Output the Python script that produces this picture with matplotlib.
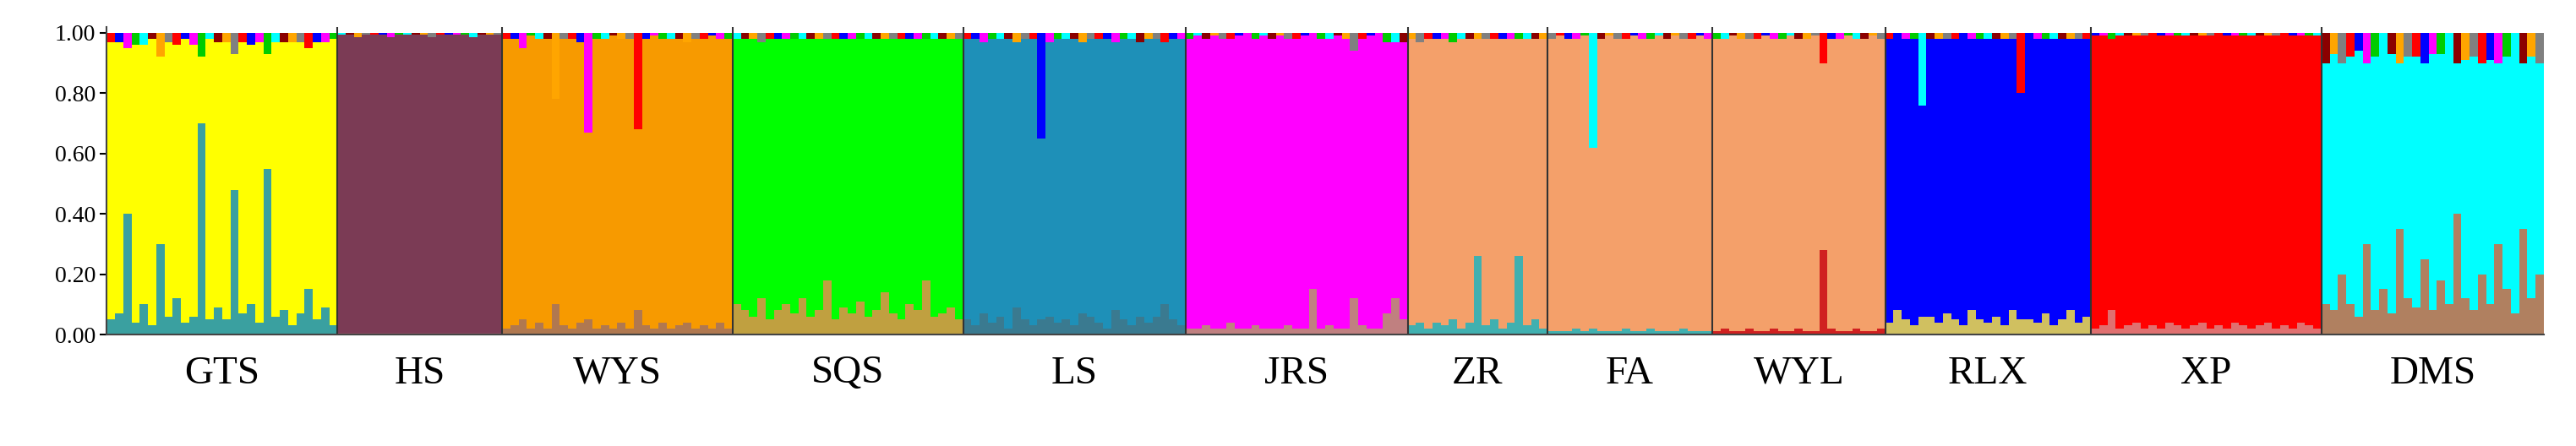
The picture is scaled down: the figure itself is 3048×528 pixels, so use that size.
import numpy as np
import matplotlib.pyplot as plt

plt.rcParams['font.family'] = ['Liberation Serif', 'DejaVu Serif']

pops = ["GTS", "HS", "WYS", "SQS", "LS", "JRS", "ZR", "FA", "WYL", "RLX", "XP", "DMS"]
main_colors = ["#FFFF00", "#7B3B55", "#F79A00", "#00FF00", "#1E90B8", "#FF00FF",
               "#F4A06A", "#F4A06A", "#F4A06A", "#0000FF", "#FF0000", "#00FFFF"]
sec_colors = ["#3AA0A0", "#8B4A60", "#B07850", "#C0A040", "#3A7A90", "#C08080",
              "#40B0B0", "#40B0B0", "#D02020", "#D0C060", "#E07070", "#B08060"]

# main-cluster share per individual
main = {
    "GTS": [0.92,0.90,0.55,0.92,0.86,0.95,0.62,0.91,0.84,0.94,0.90,0.22,0.93,0.88,0.92,0.45,0.90,0.86,0.93,0.38,0.91,0.89,0.94,0.90,0.80,0.92,0.88,0.95],
    "HS": [0.99,0.99,0.98,0.99,0.99,0.99,0.98,0.99,0.99,0.99,0.99,0.98,0.99,0.99,0.99,0.99,0.98,0.99,0.99,0.99],
    "WYS": [0.96,0.95,0.90,0.97,0.94,0.96,0.68,0.95,0.96,0.93,0.62,0.96,0.95,0.97,0.94,0.96,0.60,0.95,0.97,0.94,0.96,0.95,0.93,0.96,0.95,0.97,0.94,0.96],
    "SQS": [0.88,0.90,0.92,0.85,0.93,0.90,0.88,0.91,0.86,0.92,0.90,0.80,0.93,0.89,0.91,0.87,0.92,0.90,0.84,0.91,0.93,0.88,0.90,0.80,0.92,0.91,0.89,0.93],
    "LS": [0.93,0.95,0.90,0.94,0.92,0.96,0.88,0.93,0.95,0.60,0.91,0.94,0.93,0.95,0.90,0.92,0.94,0.96,0.89,0.93,0.95,0.91,0.94,0.92,0.87,0.93,0.95],
    "JRS": [0.96,0.97,0.95,0.97,0.96,0.94,0.97,0.96,0.95,0.97,0.96,0.97,0.95,0.96,0.97,0.80,0.96,0.95,0.97,0.96,0.82,0.95,0.97,0.96,0.90,0.85,0.92],
    "ZR": [0.95,0.93,0.96,0.94,0.95,0.92,0.96,0.94,0.72,0.95,0.93,0.96,0.94,0.72,0.95,0.93,0.96],
    "FA": [0.97,0.98,0.97,0.96,0.98,0.60,0.97,0.98,0.97,0.96,0.98,0.97,0.96,0.98,0.97,0.98,0.96,0.97,0.98,0.97],
    "WYL": [0.97,0.96,0.98,0.97,0.96,0.97,0.98,0.96,0.97,0.98,0.96,0.97,0.98,0.62,0.96,0.97,0.98,0.96,0.97,0.98,0.96],
    "RLX": [0.94,0.90,0.93,0.95,0.70,0.92,0.94,0.91,0.93,0.95,0.90,0.93,0.94,0.92,0.95,0.90,0.75,0.93,0.94,0.91,0.95,0.93,0.90,0.94,0.92],
    "XP": [0.97,0.96,0.90,0.97,0.96,0.95,0.97,0.96,0.97,0.95,0.96,0.97,0.96,0.95,0.97,0.96,0.97,0.95,0.96,0.97,0.96,0.95,0.97,0.96,0.97,0.95,0.96,0.97],
    "DMS": [0.80,0.85,0.70,0.82,0.88,0.60,0.84,0.78,0.86,0.55,0.80,0.83,0.65,0.85,0.75,0.82,0.50,0.79,0.84,0.70,0.81,0.60,0.77,0.85,0.55,0.80,0.70],
}
# second-cluster share at the bottom of each bar
sec = {
    "GTS": [0.05,0.07,0.40,0.04,0.10,0.03,0.30,0.06,0.12,0.04,0.06,0.70,0.05,0.09,0.05,0.48,0.07,0.10,0.04,0.55,0.06,0.08,0.03,0.07,0.15,0.05,0.09,0.03],
    "HS": [0.005]*20,
    "WYS": [0.02,0.03,0.05,0.02,0.04,0.02,0.10,0.03,0.02,0.04,0.05,0.02,0.03,0.02,0.04,0.02,0.08,0.03,0.02,0.04,0.02,0.03,0.04,0.02,0.03,0.02,0.04,0.02],
    "SQS": [0.10,0.08,0.06,0.12,0.05,0.08,0.10,0.07,0.12,0.06,0.08,0.18,0.05,0.09,0.07,0.11,0.06,0.08,0.14,0.07,0.05,0.10,0.08,0.18,0.06,0.07,0.09,0.05],
    "LS": [0.05,0.03,0.07,0.04,0.06,0.02,0.09,0.05,0.03,0.05,0.06,0.04,0.05,0.03,0.07,0.06,0.04,0.02,0.08,0.05,0.03,0.06,0.04,0.06,0.10,0.05,0.03],
    "JRS": [0.02,0.02,0.03,0.02,0.02,0.04,0.02,0.02,0.03,0.02,0.02,0.02,0.03,0.02,0.02,0.15,0.02,0.03,0.02,0.02,0.12,0.03,0.02,0.02,0.07,0.12,0.05],
    "ZR": [0.03,0.04,0.02,0.04,0.03,0.05,0.02,0.04,0.26,0.03,0.05,0.02,0.04,0.26,0.03,0.05,0.02],
    "FA": [0.01,0.01,0.01,0.02,0.01,0.02,0.01,0.01,0.01,0.02,0.01,0.01,0.02,0.01,0.01,0.01,0.02,0.01,0.01,0.01],
    "WYL": [0.01,0.02,0.01,0.01,0.02,0.01,0.01,0.02,0.01,0.01,0.02,0.01,0.01,0.28,0.02,0.01,0.01,0.02,0.01,0.01,0.02],
    "RLX": [0.04,0.08,0.05,0.03,0.06,0.06,0.04,0.07,0.05,0.03,0.08,0.05,0.04,0.06,0.03,0.08,0.05,0.05,0.04,0.07,0.03,0.05,0.08,0.04,0.06],
    "XP": [0.02,0.03,0.08,0.02,0.03,0.04,0.02,0.03,0.02,0.04,0.03,0.02,0.03,0.04,0.02,0.03,0.02,0.04,0.03,0.02,0.03,0.04,0.02,0.03,0.02,0.04,0.03,0.02],
    "DMS": [0.10,0.08,0.20,0.10,0.06,0.30,0.08,0.15,0.07,0.35,0.12,0.09,0.25,0.08,0.18,0.10,0.40,0.12,0.08,0.20,0.10,0.30,0.15,0.07,0.35,0.12,0.20],
}
misc_colors = ["#FF0000", "#0000FF", "#FF00FF", "#00CC00", "#00FFFF", "#8B0000", "#FFA500", "#808080"]

fig = plt.figure(figsize=(30.48, 5.28), dpi=100)
ax = fig.add_axes([0.0415, 0.25, 0.946, 0.69])

x0 = 0
bounds = [0]
centers = []
for p, mc, sc in zip(pops, main_colors, sec_colors):
    m = np.array(main[p])
    s = np.array(sec[p])
    n = len(m)
    x = np.arange(x0, x0 + n) + 0.5
    top = 1 - m - s
    tc = [misc_colors[(x0 + i) % len(misc_colors)] for i in range(n)]
    ax.bar(x, s, width=1.0, color=sc, linewidth=0)
    ax.bar(x, m, bottom=s, width=1.0, color=mc, linewidth=0)
    ax.bar(x, top, bottom=s + m, width=1.0, color=tc, linewidth=0)
    centers.append(x0 + n / 2)
    x0 += n
    bounds.append(x0)

for b in bounds[1:-1]:
    ax.axvline(b, color="#333333", linewidth=1.5)

ax.set_xlim(0, x0)
ax.set_ylim(0, 1.02)
ax.set_yticks(np.arange(0, 1.01, 0.2))
ax.set_yticklabels([f"{v:.2f}" for v in np.arange(0, 1.01, 0.2)], fontsize=20)
ax.set_xticks(centers)
ax.set_xticklabels(pops, fontsize=34)
ax.tick_params(axis='x', length=0, pad=18)
ax.tick_params(axis='y', length=6, width=1.5)
for sp in ["top", "right"]:
    ax.spines[sp].set_visible(False)
for sp in ["left", "bottom"]:
    ax.spines[sp].set_color("#444444")
    ax.spines[sp].set_linewidth(1.5)

fig.savefig("out.png", dpi=100)
